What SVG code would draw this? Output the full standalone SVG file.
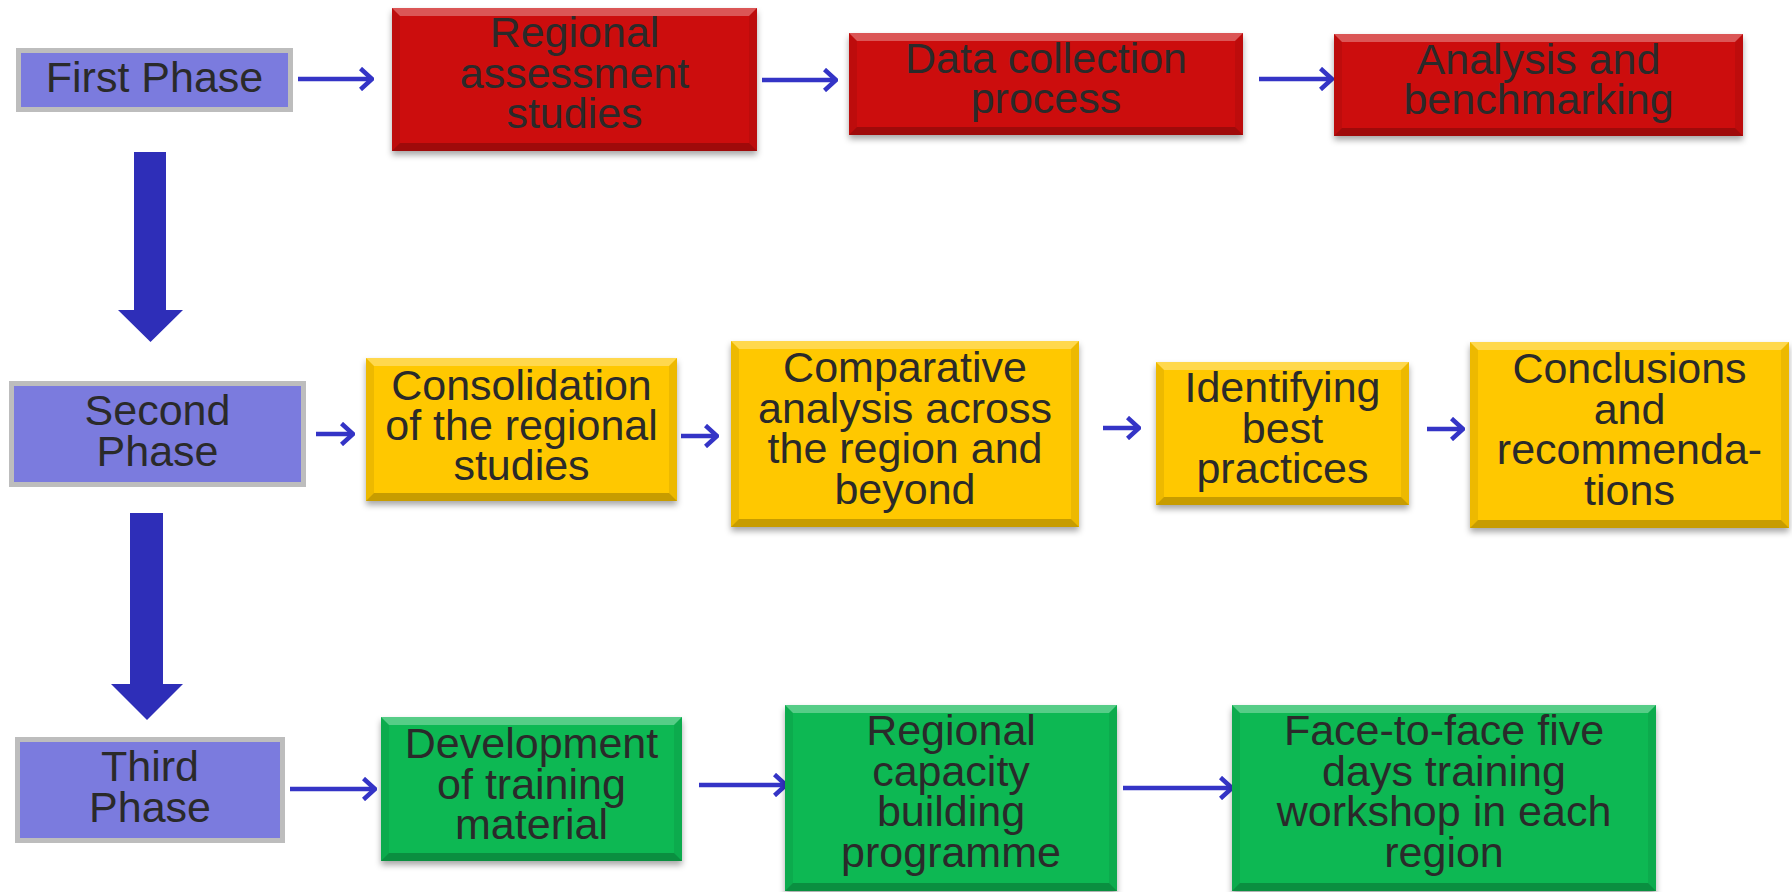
<svg xmlns="http://www.w3.org/2000/svg" width="1792" height="892" viewBox="0 0 1792 892">
<style>
.t{font-family:"Liberation Sans",Arial,sans-serif;font-size:43px;fill:#2a2a2a;text-anchor:middle}
.ph{fill:#7b7bde;stroke:#bdbdbd;stroke-width:5}
.red{fill:#cc0808}
.yel{fill:#ffc800}
.grn{fill:#07b853}
.bt{fill:#fff;fill-opacity:.3}
.bb{fill:#000;fill-opacity:.22}
.bs{fill:#000;fill-opacity:.07}
.sa{stroke:#3434c6;stroke-width:4.5;fill:none}
.big{fill:#2e2eb8}
</style>
<defs>
<filter id="sh" x="-5%" y="-5%" width="110%" height="120%">
<feDropShadow dx="0" dy="4" stdDeviation="3" flood-color="#000" flood-opacity="0.35"/>
</filter>
<marker id="ah" viewBox="0 0 15 24" markerWidth="15" markerHeight="24" refX="13" refY="12" orient="auto" markerUnits="userSpaceOnUse">
<path d="M1.5,1.5 L13,12 L1.5,22.5" fill="none" stroke="#3434c6" stroke-width="4.5"/>
</marker>
</defs>

<g id="connectors">
<polygon class="big" points="134,152 166,152 166,310 183,310 150.5,342 118,310 134,310"/>
<polygon class="big" points="130,513 163,513 163,684 183,684 147,720 111,684 130,684"/>
<line class="sa" x1="298" y1="79" x2="372" y2="79" marker-end="url(#ah)"/>
<line class="sa" x1="762" y1="80" x2="836" y2="80" marker-end="url(#ah)"/>
<line class="sa" x1="1259" y1="79" x2="1332" y2="79" marker-end="url(#ah)"/>
<line class="sa" x1="316" y1="434" x2="353" y2="434" marker-end="url(#ah)"/>
<line class="sa" x1="681" y1="436" x2="717" y2="436" marker-end="url(#ah)"/>
<line class="sa" x1="1103" y1="428" x2="1139" y2="428" marker-end="url(#ah)"/>
<line class="sa" x1="1427" y1="429" x2="1463" y2="429" marker-end="url(#ah)"/>
<line class="sa" x1="290" y1="789" x2="375" y2="789" marker-end="url(#ah)"/>
<line class="sa" x1="699" y1="785" x2="786" y2="785" marker-end="url(#ah)"/>
<line class="sa" x1="1123" y1="788" x2="1232" y2="788" marker-end="url(#ah)"/>
</g>

<g id="first-phase">
<rect class="ph" x="18.5" y="50.5" width="272" height="59"/>
<text class="t" x="154.5" y="92">First Phase</text>
</g>
<g id="second-phase">
<rect class="ph" x="11.5" y="383.5" width="292" height="101"/>
<text class="t" x="157.5" y="425">Second</text>
<text class="t" x="157.5" y="465.5">Phase</text>
</g>
<g id="third-phase">
<rect class="ph" x="17.5" y="739.5" width="265" height="101"/>
<text class="t" x="150" y="781">Third</text>
<text class="t" x="150" y="821.5">Phase</text>
</g>

<g id="regional-assessment">
<rect class="red" x="392" y="8" width="365" height="143" filter="url(#sh)"/>
<polygon class="bt" points="392,8 757,8 749,16 400,16"/>
<polygon class="bb" points="392,151 757,151 749,143 400,143"/>
<polygon class="bs" points="392,8 400,16 400,143 392,151"/>
<polygon class="bs" points="757,8 749,16 749,143 757,151"/>
<text class="t" x="574.5" y="47">Regional</text>
<text class="t" x="574.5" y="87.5">assessment</text>
<text class="t" x="574.5" y="128">studies</text>
</g>
<g id="data-collection">
<rect class="red" x="849" y="33" width="394" height="102" filter="url(#sh)"/>
<polygon class="bt" points="849,33 1243,33 1235,41 857,41"/>
<polygon class="bb" points="849,135 1243,135 1235,127 857,127"/>
<polygon class="bs" points="849,33 857,41 857,127 849,135"/>
<polygon class="bs" points="1243,33 1235,41 1235,127 1243,135"/>
<text class="t" x="1046" y="73">Data collection</text>
<text class="t" x="1046" y="113">process</text>
</g>
<g id="analysis-benchmarking">
<rect class="red" x="1334" y="34" width="409" height="102" filter="url(#sh)"/>
<polygon class="bt" points="1334,34 1743,34 1735,42 1342,42"/>
<polygon class="bb" points="1334,136 1743,136 1735,128 1342,128"/>
<polygon class="bs" points="1334,34 1342,42 1342,128 1334,136"/>
<polygon class="bs" points="1743,34 1735,42 1735,128 1743,136"/>
<text class="t" x="1538.5" y="74">Analysis and</text>
<text class="t" x="1538.5" y="114">benchmarking</text>
</g>

<g id="consolidation">
<rect class="yel" x="366" y="358" width="311" height="143" filter="url(#sh)"/>
<polygon class="bt" points="366,358 677,358 669,366 374,366"/>
<polygon class="bb" points="366,501 677,501 669,493 374,493"/>
<polygon class="bs" points="366,358 374,366 374,493 366,501"/>
<polygon class="bs" points="677,358 669,366 669,493 677,501"/>
<text class="t" x="521.5" y="400">Consolidation</text>
<text class="t" x="521.5" y="440">of the regional</text>
<text class="t" x="521.5" y="480">studies</text>
</g>
<g id="comparative-analysis">
<rect class="yel" x="731" y="341" width="348" height="186" filter="url(#sh)"/>
<polygon class="bt" points="731,341 1079,341 1071,349 739,349"/>
<polygon class="bb" points="731,527 1079,527 1071,519 739,519"/>
<polygon class="bs" points="731,341 739,349 739,519 731,527"/>
<polygon class="bs" points="1079,341 1071,349 1071,519 1079,527"/>
<text class="t" x="905" y="382">Comparative</text>
<text class="t" x="905" y="422.5">analysis across</text>
<text class="t" x="905" y="463">the region and</text>
<text class="t" x="905" y="503.5">beyond</text>
</g>
<g id="best-practices">
<rect class="yel" x="1156" y="362" width="253" height="143" filter="url(#sh)"/>
<polygon class="bt" points="1156,362 1409,362 1401,370 1164,370"/>
<polygon class="bb" points="1156,505 1409,505 1401,497 1164,497"/>
<polygon class="bs" points="1156,362 1164,370 1164,497 1156,505"/>
<polygon class="bs" points="1409,362 1401,370 1401,497 1409,505"/>
<text class="t" x="1282.5" y="402">Identifying</text>
<text class="t" x="1282.5" y="442.5">best</text>
<text class="t" x="1282.5" y="483">practices</text>
</g>
<g id="conclusions">
<rect class="yel" x="1470" y="342" width="319" height="186" filter="url(#sh)"/>
<polygon class="bt" points="1470,342 1789,342 1781,350 1478,350"/>
<polygon class="bb" points="1470,528 1789,528 1781,520 1478,520"/>
<polygon class="bs" points="1470,342 1478,350 1478,520 1470,528"/>
<polygon class="bs" points="1789,342 1781,350 1781,520 1789,528"/>
<text class="t" x="1629.5" y="383">Conclusions</text>
<text class="t" x="1629.5" y="423.5">and</text>
<text class="t" x="1629.5" y="464">recommenda-</text>
<text class="t" x="1629.5" y="504.5">tions</text>
</g>

<g id="training-material">
<rect class="grn" x="381" y="717" width="301" height="144" filter="url(#sh)"/>
<polygon class="bt" points="381,717 682,717 674,725 389,725"/>
<polygon class="bb" points="381,861 682,861 674,853 389,853"/>
<polygon class="bs" points="381,717 389,725 389,853 381,861"/>
<polygon class="bs" points="682,717 674,725 674,853 682,861"/>
<text class="t" x="531.5" y="758">Development</text>
<text class="t" x="531.5" y="798.5">of training</text>
<text class="t" x="531.5" y="839">material</text>
</g>
<g id="capacity-building">
<rect class="grn" x="785" y="705" width="332" height="186" filter="url(#sh)"/>
<polygon class="bt" points="785,705 1117,705 1109,713 793,713"/>
<polygon class="bb" points="785,891 1117,891 1109,883 793,883"/>
<polygon class="bs" points="785,705 793,713 793,883 785,891"/>
<polygon class="bs" points="1117,705 1109,713 1109,883 1117,891"/>
<text class="t" x="951" y="745">Regional</text>
<text class="t" x="951" y="785.5">capacity</text>
<text class="t" x="951" y="826">building</text>
<text class="t" x="951" y="866.5">programme</text>
</g>
<g id="training-workshop">
<rect class="grn" x="1232" y="705" width="424" height="186" filter="url(#sh)"/>
<polygon class="bt" points="1232,705 1656,705 1648,713 1240,713"/>
<polygon class="bb" points="1232,891 1656,891 1648,883 1240,883"/>
<polygon class="bs" points="1232,705 1240,713 1240,883 1232,891"/>
<polygon class="bs" points="1656,705 1648,713 1648,883 1656,891"/>
<text class="t" x="1444" y="745">Face-to-face five</text>
<text class="t" x="1444" y="785.5">days training</text>
<text class="t" x="1444" y="826">workshop in each</text>
<text class="t" x="1444" y="866.5">region</text>
</g>
</svg>
